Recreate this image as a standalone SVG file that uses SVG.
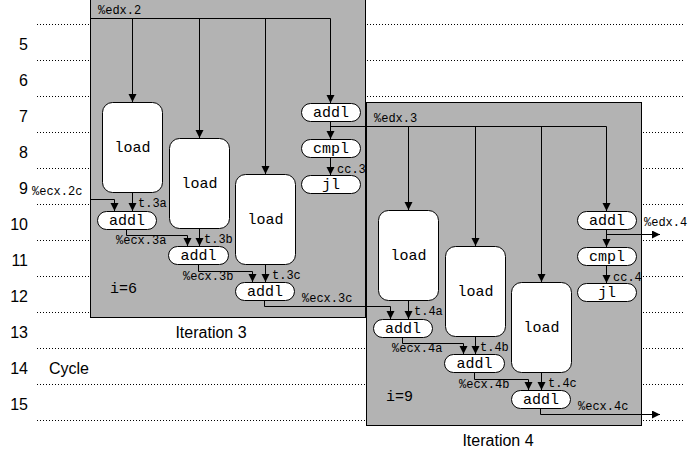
<svg xmlns="http://www.w3.org/2000/svg" width="695" height="454" viewBox="0 0 695 454">
<defs>
<marker id="ah" markerUnits="userSpaceOnUse" markerWidth="9" markerHeight="9" refX="8" refY="4" orient="auto">
<path d="M0,0 L8,4 L0,8 z" fill="#000"/>
</marker>
<style>
.grid{stroke:#000;stroke-width:1;stroke-dasharray:1,2;fill:none}
.box{fill:#b3b3b3;stroke:#000;stroke-width:1}
.nd{fill:#fff;stroke:#000;stroke-width:1}
.c{fill:none;stroke:#000;stroke-width:1}
.a{marker-end:url(#ah)}
.nt{font-family:"Liberation Mono",monospace;font-size:15px;fill:#000;text-anchor:middle}
.it{font-family:"Liberation Mono",monospace;font-size:15px;fill:#000}
.lb{font-family:"Liberation Mono",monospace;font-size:12px;fill:#000}
.sa{font-family:"Liberation Sans",Arial,sans-serif;font-size:16px;fill:#000}
.num{font-family:"Liberation Sans",Arial,sans-serif;font-size:16px;fill:#000;text-anchor:end}
</style>
</defs>
<rect width="695" height="454" fill="#fff"/>
<g id="grid">
<path class="grid" d="M37,24.5H683M37,60.5H683M37,96.5H683M37,132.5H683M37,168.5H683M37,204.5H683M37,240.5H683M37,276.5H683M37,312.5H683M37,348.5H683M37,384.5H683M37,420.5H683"/>
</g>
<g id="cycle-numbers">
<text class="num" x="28" y="50">5</text>
<text class="num" x="28" y="86">6</text>
<text class="num" x="28" y="122">7</text>
<text class="num" x="28" y="158">8</text>
<text class="num" x="28" y="194">9</text>
<text class="num" x="28" y="230">10</text>
<text class="num" x="28" y="266">11</text>
<text class="num" x="28" y="302">12</text>
<text class="num" x="28" y="338">13</text>
<text class="num" x="28" y="374">14</text>
<text class="num" x="28" y="410">15</text>
<text class="sa" x="49" y="374">Cycle</text>
</g>
<g id="iteration3">
<rect class="box" x="90.5" y="-5.5" width="275" height="323"/>
<text class="sa" x="211" y="338" text-anchor="middle">Iteration 3</text>
<text class="it" x="110" y="293">i=6</text>
</g>
<g id="iteration4">
<rect class="box" x="366.5" y="102.5" width="275" height="323"/>
<text class="sa" x="498" y="446" text-anchor="middle">Iteration 4</text>
<text class="it" x="386" y="401">i=9</text>
</g>
<g id="connectors">
<path class="c" d="M90,18.5H330.5"/>
<path class="c a" d="M132.5,18.5V102"/>
<path class="c a" d="M199.5,18.5V138"/>
<path class="c a" d="M265.5,18.5V174"/>
<path class="c a" d="M330.5,18.5V103"/>
<path class="c a" d="M90,199.5H114.5V211"/>
<path class="c a" d="M132.5,192V211"/>
<path class="c a" d="M126.5,229V235.5H187.5V246"/>
<path class="c a" d="M199.5,228V246"/>
<path class="c a" d="M198.5,264V271.5H252.5V282"/>
<path class="c a" d="M265.5,264V282"/>
<path class="c a" d="M264.5,300V306.5H390.5V319"/>
<path class="c a" d="M330.5,121V139"/>
<path class="c a" d="M330.5,157V175"/>
<path class="c" d="M330.5,126.5H606.5"/>
<path class="c a" d="M408.5,126.5V210"/>
<path class="c a" d="M475.5,126.5V246"/>
<path class="c a" d="M541.5,126.5V282"/>
<path class="c a" d="M606.5,126.5V211"/>
<path class="c a" d="M408.5,300V319"/>
<path class="c a" d="M402.5,337V343.5H463.5V354"/>
<path class="c a" d="M475.5,336V354"/>
<path class="c a" d="M474.5,372V379.5H528.5V390"/>
<path class="c a" d="M541.5,372V390"/>
<path class="c a" d="M540.5,408V414.5H660"/>
<path class="c a" d="M606.5,229V247"/>
<path class="c a" d="M606.5,265V283"/>
<path class="c a" d="M606.5,234.5H660"/>
<text class="lb" x="98" y="14">%edx.2</text>
<text class="lb" x="32" y="195">%ecx.2c</text>
<text class="lb" x="138" y="207">t.3a</text>
<text class="lb" x="116" y="244">%ecx.3a</text>
<text class="lb" x="204" y="243">t.3b</text>
<text class="lb" x="183" y="280">%ecx.3b</text>
<text class="lb" x="272" y="279">t.3c</text>
<text class="lb" x="302" y="302">%ecx.3c</text>
<text class="lb" x="337" y="173">cc.3</text>
<text class="lb" x="374" y="122">%edx.3</text>
<text class="lb" x="414" y="315">t.4a</text>
<text class="lb" x="392" y="352">%ecx.4a</text>
<text class="lb" x="480" y="351">t.4b</text>
<text class="lb" x="459" y="388">%ecx.4b</text>
<text class="lb" x="548" y="387">t.4c</text>
<text class="lb" x="578" y="410">%ecx.4c</text>
<text class="lb" x="613" y="281">cc.4</text>
<text class="lb" x="644" y="226">%edx.4</text>
</g>
<g id="load3a"><rect class="nd" x="102.5" y="102.5" width="60" height="90" rx="10"/><text class="nt" x="132.5" y="152">load</text></g>
<g id="load3b"><rect class="nd" x="169.5" y="138.5" width="60" height="90" rx="10"/><text class="nt" x="199.5" y="188">load</text></g>
<g id="load3c"><rect class="nd" x="235.5" y="174.5" width="60" height="90" rx="10"/><text class="nt" x="265.5" y="224">load</text></g>
<g id="addl3a"><rect class="nd" x="97.5" y="211.5" width="59" height="18" rx="9"/><text class="nt" x="127" y="225">addl</text></g>
<g id="addl3b"><rect class="nd" x="168.5" y="246.5" width="60" height="18" rx="9"/><text class="nt" x="198.5" y="260">addl</text></g>
<g id="addl3c"><rect class="nd" x="235.5" y="282.5" width="59" height="18" rx="9"/><text class="nt" x="265" y="296">addl</text></g>
<g id="addl3i"><rect class="nd" x="301.5" y="103.5" width="59" height="18" rx="9"/><text class="nt" x="331" y="117">addl</text></g>
<g id="cmpl3"><rect class="nd" x="301.5" y="139.5" width="59" height="18" rx="9"/><text class="nt" x="331" y="153">cmpl</text></g>
<g id="jl3"><rect class="nd" x="301.5" y="175.5" width="59" height="18" rx="9"/><text class="nt" x="331" y="189">jl</text></g>
<g id="load4a"><rect class="nd" x="378.5" y="210.5" width="60" height="90" rx="10"/><text class="nt" x="408.5" y="260">load</text></g>
<g id="load4b"><rect class="nd" x="445.5" y="246.5" width="60" height="90" rx="10"/><text class="nt" x="475.5" y="296">load</text></g>
<g id="load4c"><rect class="nd" x="511.5" y="282.5" width="60" height="90" rx="10"/><text class="nt" x="541.5" y="332">load</text></g>
<g id="addl4a"><rect class="nd" x="373.5" y="319.5" width="59" height="18" rx="9"/><text class="nt" x="403" y="333">addl</text></g>
<g id="addl4b"><rect class="nd" x="444.5" y="354.5" width="60" height="18" rx="9"/><text class="nt" x="474.5" y="368">addl</text></g>
<g id="addl4c"><rect class="nd" x="511.5" y="390.5" width="59" height="18" rx="9"/><text class="nt" x="541" y="404">addl</text></g>
<g id="addl4i"><rect class="nd" x="577.5" y="211.5" width="59" height="18" rx="9"/><text class="nt" x="607" y="225">addl</text></g>
<g id="cmpl4"><rect class="nd" x="577.5" y="247.5" width="59" height="18" rx="9"/><text class="nt" x="607" y="261">cmpl</text></g>
<g id="jl4"><rect class="nd" x="577.5" y="283.5" width="59" height="18" rx="9"/><text class="nt" x="607" y="297">jl</text></g>
</svg>
